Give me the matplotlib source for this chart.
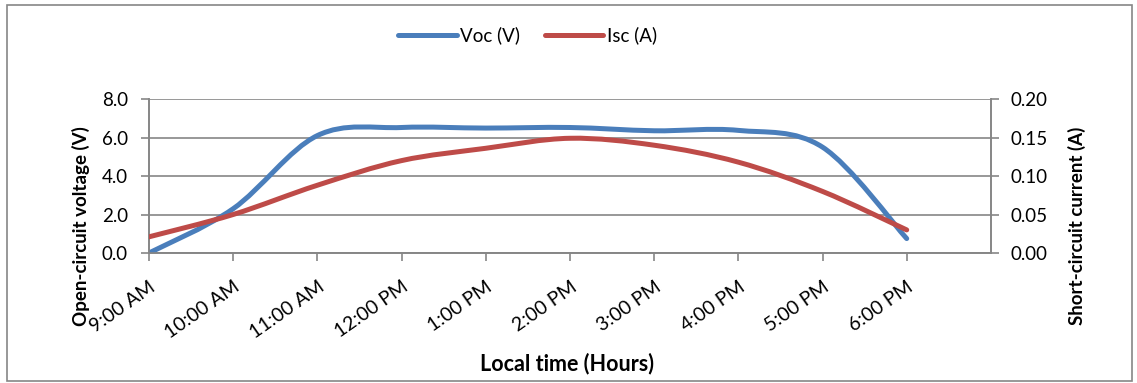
import numpy as np
import matplotlib
matplotlib.use("Agg")
import matplotlib.pyplot as plt
from matplotlib.path import Path
from matplotlib.patches import PathPatch, Rectangle
from matplotlib.lines import Line2D

plt.rcParams['font.family'] = ['Lato', 'DejaVu Sans']

# data
times = ["9:00 AM", "10:00 AM", "11:00 AM", "12:00 PM", "1:00 PM",
         "2:00 PM", "3:00 PM", "4:00 PM", "5:00 PM", "6:00 PM"]
voc = [0.0, 2.3, 6.1, 6.52, 6.49, 6.52, 6.35, 6.37, 5.5, 0.75]
isc = [0.021, 0.050, 0.088, 0.120, 0.136, 0.149, 0.140, 0.118, 0.080, 0.030]

blue = "#4A7EBB"
red = "#BE4B48"
grid_c = "#868686"


def smooth_path(xs, ys):
    # Excel-like smoothed line: cubic Bezier segments through every point
    p = np.column_stack([xs, ys]).astype(float)
    pp = np.vstack([p[0], p, p[-1]])
    verts = [p[0]]
    codes = [Path.MOVETO]
    for i in range(len(p) - 1):
        a, b, c, d = pp[i], pp[i + 1], pp[i + 2], pp[i + 3]
        verts += [b + (c - a) / 6, c - (d - b) / 6, c]
        codes += [Path.CURVE4] * 3
    return Path(verts, codes)


fig = plt.figure(figsize=(11.37, 3.83), dpi=100)
fig.patches.append(Rectangle((0.006, 0.005), 0.990, 0.982, transform=fig.transFigure,
                             fill=False, edgecolor=grid_c, linewidth=1.2))

ax = fig.add_axes([0.131, 0.3394, 0.7405, 0.4021])
ax2 = ax.twinx()

x = np.arange(len(times))
ax.add_patch(PathPatch(smooth_path(x, voc), fill=False, edgecolor=blue,
                       linewidth=3.6, capstyle='round', zorder=3))
ax2.add_patch(PathPatch(smooth_path(x, isc), fill=False, edgecolor=red,
                        linewidth=3.6, capstyle='round', zorder=3))

ax.set_xlim(0, 10)
ax.set_ylim(0, 8)
ax2.set_ylim(0, 0.2)
ax.set_yticks(np.arange(0, 8.1, 2))
ax.set_yticklabels(["%.1f" % v for v in np.arange(0, 8.1, 2)])
ax2.set_yticks(np.arange(0, 0.201, 0.05))
ax2.set_yticklabels(["%.2f" % v for v in np.arange(0, 0.201, 0.05)])
ax.set_xticks(x)
ax.set_xticklabels(times, rotation=35, ha='right', rotation_mode='anchor')

ax.grid(axis='y', color=grid_c, linewidth=1.2)
ax.set_axisbelow(True)
for a in (ax, ax2):
    a.spines['top'].set_visible(False)
    for s in ('left', 'right', 'bottom'):
        a.spines[s].set_color(grid_c)
        a.spines[s].set_linewidth(1.2)
    a.tick_params(colors=grid_c, labelcolor='black', labelsize=13.5, length=6, width=1.2)
ax.tick_params(axis='x', pad=12, labelsize=14)
ax.tick_params(axis='y', pad=9)
ax2.tick_params(axis='y', pad=8)

fig.text(0.071, 0.41, "Open-circuit voltage (V)", rotation=90, fontsize=13.5,
         fontweight='bold', ha='center', va='center')
fig.text(0.947, 0.41, "Short-circuit current (A)", rotation=90, fontsize=13.5,
         fontweight='bold', ha='center', va='center')
fig.text(0.499, 0.05, "Local time (Hours)", fontsize=15.5, fontweight='bold',
         ha='center', va='center')

handles = [Line2D([], [], color=blue, linewidth=3.6, solid_capstyle='round'),
           Line2D([], [], color=red, linewidth=3.6, solid_capstyle='round')]
fig.legend(handles, ["Voc (V)", "Isc (A)"], loc='center', bbox_to_anchor=(0.464, 0.908),
           ncol=2, frameon=False, fontsize=13.5, handlelength=3.1,
           handletextpad=0.2, columnspacing=1.3)

fig.savefig("out.png", dpi=100)
